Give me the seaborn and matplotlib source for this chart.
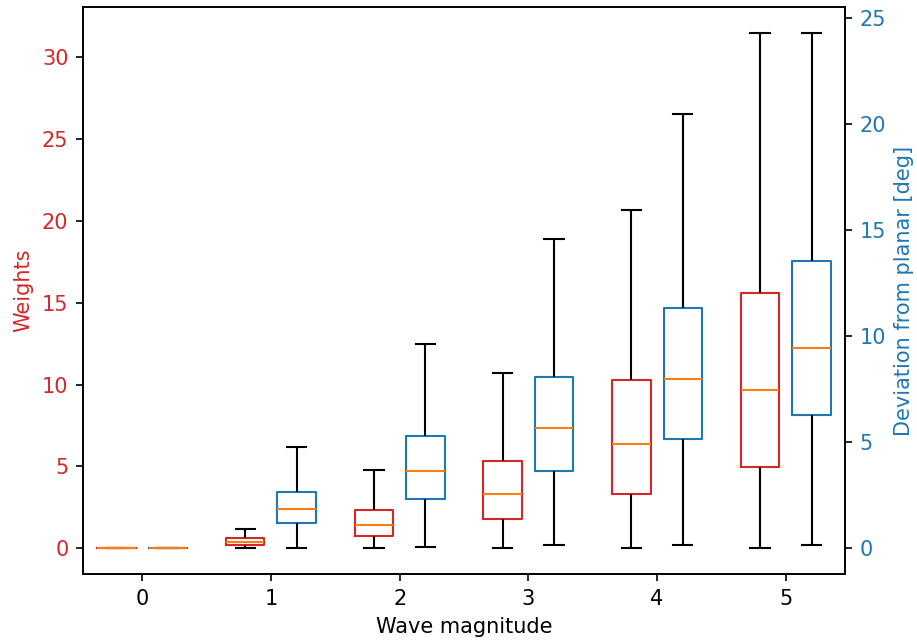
import matplotlib
matplotlib.use("Agg")
import matplotlib.pyplot as plt
import numpy as np
import pandas as pd
import seaborn as sns

# wave magnitude categories
magnitudes = [0, 1, 2, 3, 4, 5]

# box stats per magnitude: [min, q1, median, q3, max]
weights_stats = [
    [0.0, 0.0, 0.0, 0.0, 0.0],
    [0.0, 0.18, 0.38, 0.63, 1.2],
    [0.0, 0.73, 1.44, 2.34, 4.76],
    [0.0, 1.77, 3.33, 5.35, 10.73],
    [0.0, 3.33, 6.38, 10.26, 20.69],
    [0.0, 4.96, 9.65, 15.61, 31.5],
]
deviation_stats = [
    [0.0, 0.0, 0.0, 0.0, 0.0],
    [0.03, 1.18, 1.83, 2.65, 4.76],
    [0.08, 2.32, 3.62, 5.27, 9.64],
    [0.16, 3.64, 5.66, 8.07, 14.57],
    [0.16, 5.14, 7.96, 11.3, 20.47],
    [0.14, 6.3, 9.42, 13.53, 24.29],
]

def long_df(stats, kind):
    rows = []
    for m, vals in zip(magnitudes, stats):
        for v in vals:
            rows.append({"mag": m, "val": v, "kind": kind})
    return pd.DataFrame(rows)

w_df = long_df(weights_stats, "Weights")
d_df = long_df(deviation_stats, "Deviation")

red = "tab:red"
blue = "tab:blue"
hue_order = ["Weights", "Deviation"]
pal = {"Weights": red, "Deviation": blue}

box_kws = dict(
    x="mag", y="val", hue="kind", hue_order=hue_order, palette=pal,
    dodge=True, width=0.8, gap=0.25, fill=False, whis=(0, 100),
    linewidth=1.0, legend=False,
    whiskerprops={"color": "black"}, capprops={"color": "black"},
    medianprops={"color": "tab:orange"},
)

fig, ax1 = plt.subplots(figsize=(917 / 150, 640 / 150), dpi=150)
ax2 = ax1.twinx()

sns.boxplot(data=w_df, ax=ax1, **box_kws)
sns.boxplot(data=d_df, ax=ax2, **box_kws)

ax1.set_xlim(-0.46, 5.46)
ax1.set_xlabel("Wave magnitude")
ax1.set_ylabel("Weights", color=red)
ax1.tick_params(axis="y", labelcolor=red)
ax2.set_ylabel("Deviation from planar [deg]", color=blue)
ax2.tick_params(axis="y", labelcolor=blue)
ax2.set_xlabel("")

fig.subplots_adjust(left=83 / 917, right=845 / 917, top=1 - 7 / 640, bottom=1 - 574 / 640)
fig.savefig("out.png", dpi=150)
